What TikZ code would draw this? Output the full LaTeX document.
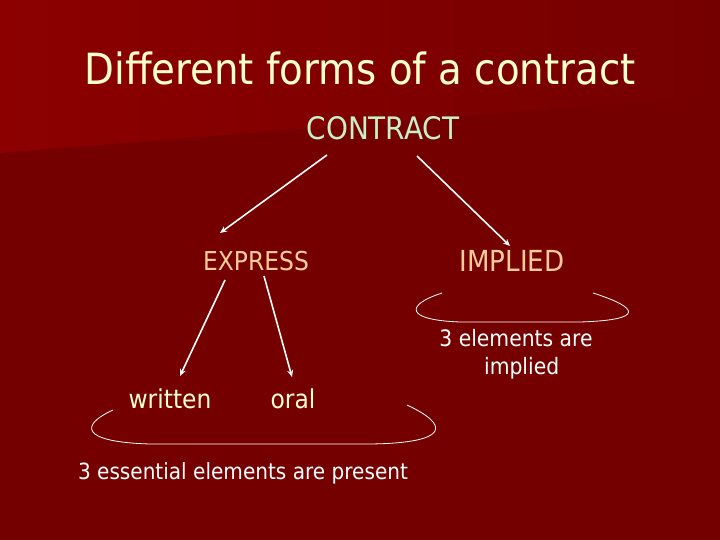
\documentclass[tikz,border=0pt]{standalone}
\usepackage{fontspec}
\setmainfont{DejaVu Sans}[FakeStretch=0.9]
\usetikzlibrary{arrows.meta}
\definecolor{bgdark}{HTML}{750000}
\definecolor{bglight}{HTML}{8C0000}
\definecolor{cream}{HTML}{FFFFCC}
\definecolor{mint}{HTML}{C8F0C8}
\definecolor{peach}{HTML}{FFCC99}
\tikzset{
  conn/.style={draw=white, line width=1.6pt, -{Stealth[length=7pt,width=6pt]}},
  brace/.style={draw=white, line width=0.8pt},
  lbl/.style={inner sep=1pt, anchor=center}
}
\begin{document}
\begin{tikzpicture}[x=1pt,y=-1pt]
\useasboundingbox (0,0) rectangle (720,540);
\fill[bgdark] (0,0) rectangle (720,540);
\shade[left color=bglight, right color=bgdark] (0,0) -- (720,0) -- (720,95) -- (0,153) -- cycle;
\node[lbl, text=cream, font=\fontsize{43}{45}\selectfont] (title) at (360,68) {Different forms of a contract};
\node[lbl, text=mint, font=\fontsize{31}{33}\selectfont] (contract) at (383,128) {CONTRACT};
\node[lbl, text=peach, font=\fontsize{26}{28}\selectfont] (express) at (256,261) {EXPRESS};
\node[lbl, text=peach, font=\fontsize{29}{31}\selectfont] (implied) at (512,261) {IMPLIED};
\node[lbl, text=cream, font=\fontsize{26}{28}\selectfont] (written) at (170,399) {written};
\node[lbl, text=cream, font=\fontsize{26}{28}\selectfont] (oral) at (293,399) {oral};
\node[lbl, text=white, font=\fontsize{22.6}{28}\selectfont, align=center] (impl3) at (516,354) {3 elements are\\\hspace*{0.5em}implied};
\node[lbl, text=white, font=\fontsize{22.3}{24}\selectfont] (ess3) at (243,473) {3 essential elements are present};
\coordinate (c1) at (327,155); \coordinate (e1) at (220,233);
\coordinate (c2) at (417,156); \coordinate (i1) at (510,246);
\coordinate (x1) at (225,280); \coordinate (w1) at (180,376);
\coordinate (x2) at (264,276); \coordinate (o1) at (292,377);
\draw[conn] (c1) -- (e1);
\draw[conn] (c2) -- (i1);
\draw[conn] (x1) -- (w1);
\draw[conn] (x2) -- (o1);
% bottom brace
\coordinate (b1) at (113,410); \coordinate (b2) at (407,405);
\draw[brace] (b1) .. controls (80,425) and (80,442) .. (150,444)
  -- (370,444) .. controls (450,443) and (450,425) .. (b2);
% right brace
\coordinate (r1) at (442,293); \coordinate (r2) at (593,293);
\draw[brace] (r1) .. controls (405,305) and (405,320) .. (460,322)
  -- (580,322) .. controls (645,320) and (640,308) .. (r2);
\end{tikzpicture}
\end{document}
